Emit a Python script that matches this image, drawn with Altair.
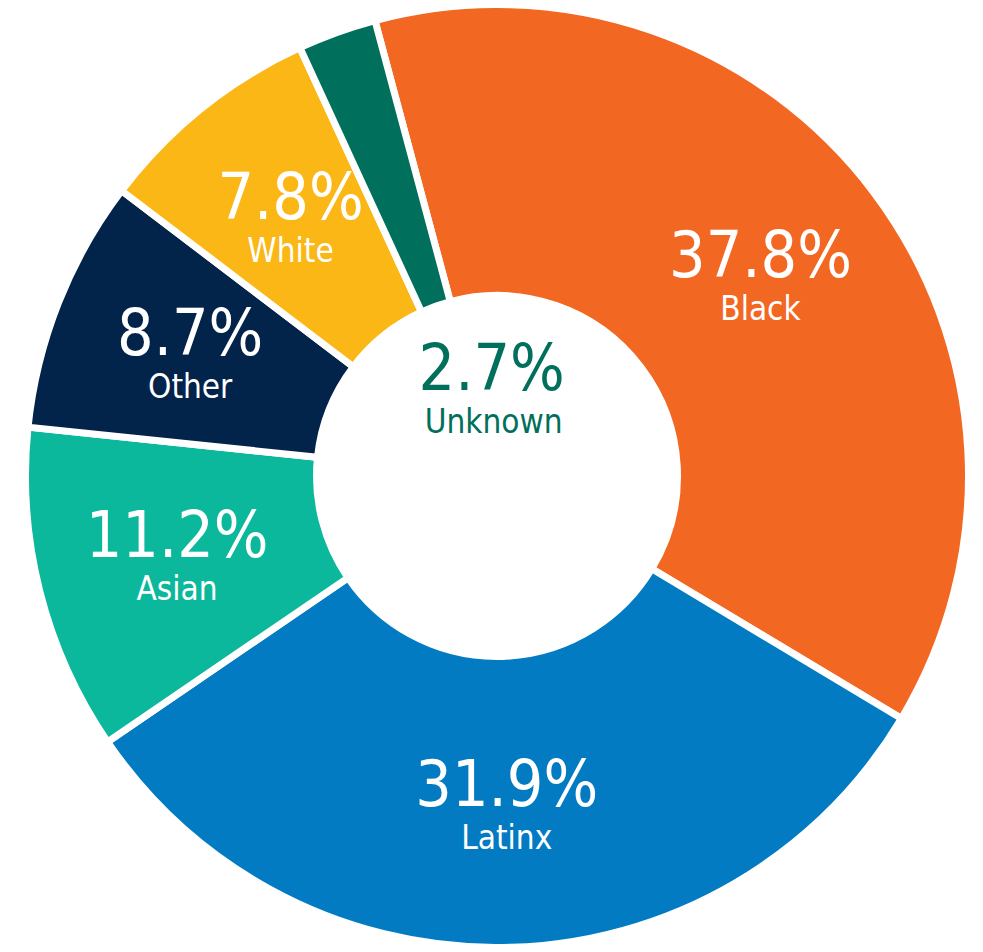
import math
import altair as alt
import pandas as pd

categories = ["Black", "Latinx", "Asian", "Other", "White", "Unknown"]
values = [37.8, 31.9, 11.2, 8.7, 7.8, 2.7]
colors = ["#F26722", "#037BC3", "#0BB89B", "#02234A", "#FBB716", "#00705C"]

df = pd.DataFrame({
    "group": categories,
    "value": values,
    "order": list(range(len(categories))),
    "pct": [f"{v}%" for v in values],
})

start = -15 * math.pi / 180
FONT = "DejaVu Sans Condensed, DejaVu Sans, sans-serif"
CX, CY = 489, 468

base = alt.Chart(df).encode(
    theta=alt.Theta("value:Q", stack=True,
                    scale=alt.Scale(range=[start, start + 2 * math.pi])),
    order=alt.Order("order:Q"),
    x=alt.value(CX),
    y=alt.value(CY),
)

arcs = base.mark_arc(outerRadius=471.5, innerRadius=180.5,
                     stroke="white", strokeWidth=7).encode(
    color=alt.Color("group:N", scale=alt.Scale(domain=categories, range=colors),
                    legend=None)
)

is_unknown = "datum.group === 'Unknown'"
not_unknown = "datum.group !== 'Unknown'"

PCT_SIZE = 64
NAME_SIZE = 33

pct_ring = base.mark_text(font=FONT, fontSize=PCT_SIZE, fill="white",
                          baseline="alphabetic", dy=0).encode(
    radius=alt.value(330),
    text=alt.condition(not_unknown, "pct:N", alt.value("")),
)
name_ring = base.mark_text(font=FONT, fontSize=NAME_SIZE, fill="white",
                           baseline="alphabetic", dy=43).encode(
    radius=alt.value(330),
    text=alt.condition(not_unknown, "group:N", alt.value("")),
)
pct_hole = base.mark_text(font=FONT, fontSize=PCT_SIZE, fill="#00705C",
                          baseline="alphabetic", dy=6, dx=28).encode(
    radius=alt.value(98),
    text=alt.condition(is_unknown, "pct:N", alt.value("")),
)
name_hole = base.mark_text(font=FONT, fontSize=NAME_SIZE, fill="#00705C",
                           baseline="alphabetic", dy=49, dx=30).encode(
    radius=alt.value(98),
    text=alt.condition(is_unknown, "group:N", alt.value("")),
)

chart = alt.layer(arcs, pct_ring, name_ring, pct_hole, name_hole).properties(
    width=960, height=936, padding=0, autosize="none"
).configure_view(stroke=None)

chart.save("out.html", embed_options={"renderer": "svg", "actions": False})
